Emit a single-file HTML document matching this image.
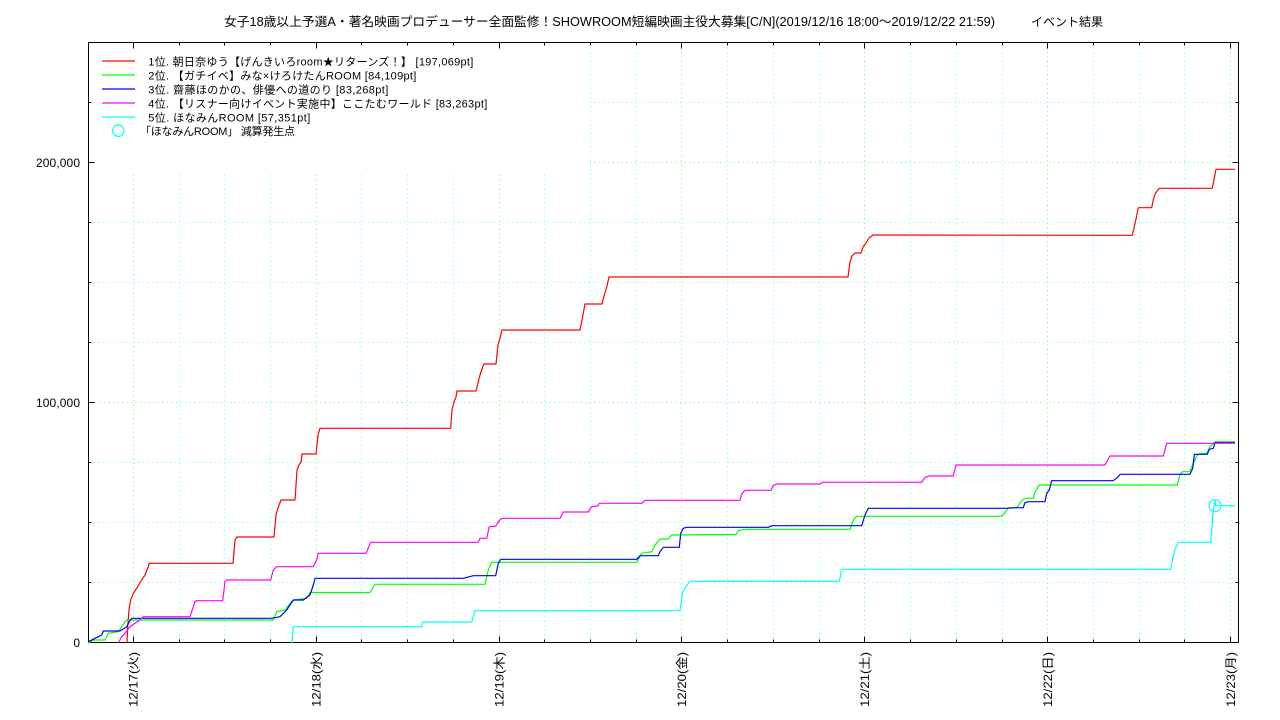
<!DOCTYPE html>
<html>
<head>
<meta charset="utf-8">
<style>
html,body{margin:0;padding:0;background:#fff;}
svg{display:block;}
text{font-family:"Liberation Sans","Noto Sans CJK JP",sans-serif;fill:#000;}
</style>
</head>
<body>
<svg width="1280" height="720" viewBox="0 0 1280 720" xmlns="http://www.w3.org/2000/svg">
<rect x="0" y="0" width="1280" height="720" fill="#fff"/>

<!-- title -->
<text x="224" y="26" font-size="12.5" textLength="771" lengthAdjust="spacingAndGlyphs">女子18歳以上予選A・著名映画プロデューサー全面監修！SHOWROOM短編映画主役大募集[C/N](2019/12/16 18:00～2019/12/22 21:59)</text>
<text x="1031" y="26" font-size="12" textLength="72" lengthAdjust="spacingAndGlyphs">イベント結果</text>

<!-- grid: vertical cyan (6h) -->
<g stroke="#80ffff" stroke-width="1" stroke-dasharray="1.2 3.3" fill="none">
<path d="M179.5 175V642 M224.5 175V642 M270.5 175V642 M361.5 175V642 M407.5 175V642 M453.5 175V642 M544.5 175V642
M590.5 43V642 M636.5 43V642 M727.5 43V642 M773.5 43V642 M819.5 43V642 M910.5 43V642 M956.5 43V642 M1002.5 43V642
M1093.5 43V642 M1139.5 43V642 M1184.5 43V642"/>
<path d="M89 582.5H1238 M89 522.5H1238 M89 462.5H1238 M89 342.5H1238 M89 282.5H1238 M89 222.5H1238 M590 102.5H1238"/>
</g>
<!-- grid: green (days, 100k) -->
<g stroke="#80ff80" stroke-width="1" stroke-dasharray="1.2 3.3" fill="none">
<path d="M133.5 175V642 M316.5 175V642 M499.5 175V642 M681.5 43V642 M864.5 43V642 M1047.5 43V642 M1230.5 43V642"/>
<path d="M95 402.5H1238 M590 162.5H1238"/>
</g>

<!-- axes frame -->
<rect x="88.5" y="42.5" width="1150" height="600" fill="none" stroke="#000" stroke-width="1"/>

<!-- ticks -->
<g stroke="#000" stroke-width="1" fill="none">
<path d="M133.5 642.5v-6 M179.5 642.5v-3 M224.5 642.5v-3 M270.5 642.5v-3 M316.5 642.5v-6 M361.5 642.5v-3 M407.5 642.5v-3 M453.5 642.5v-3 M499.5 642.5v-6 M544.5 642.5v-3 M590.5 642.5v-3 M636.5 642.5v-3 M681.5 642.5v-6 M727.5 642.5v-3 M773.5 642.5v-3 M819.5 642.5v-3 M864.5 642.5v-6 M910.5 642.5v-3 M956.5 642.5v-3 M1002.5 642.5v-3 M1047.5 642.5v-6 M1093.5 642.5v-3 M1139.5 642.5v-3 M1184.5 642.5v-3 M1230.5 642.5v-6"/>
<path d="M133.5 42.5v6 M179.5 42.5v3 M224.5 42.5v3 M270.5 42.5v3 M316.5 42.5v6 M361.5 42.5v3 M407.5 42.5v3 M453.5 42.5v3 M499.5 42.5v6 M544.5 42.5v3 M590.5 42.5v3 M636.5 42.5v3 M681.5 42.5v6 M727.5 42.5v3 M773.5 42.5v3 M819.5 42.5v3 M864.5 42.5v6 M910.5 42.5v3 M956.5 42.5v3 M1002.5 42.5v3 M1047.5 42.5v6 M1093.5 42.5v3 M1139.5 42.5v3 M1184.5 42.5v3 M1230.5 42.5v6"/>
<path d="M88.5 582.5h3 M88.5 522.5h3 M88.5 462.5h3 M88.5 402.5h6 M88.5 342.5h3 M88.5 282.5h3 M88.5 222.5h3 M88.5 162.5h6 M88.5 102.5h3"/>
<path d="M1238.5 582.5h-3 M1238.5 522.5h-3 M1238.5 462.5h-3 M1238.5 402.5h-6 M1238.5 342.5h-3 M1238.5 282.5h-3 M1238.5 222.5h-3 M1238.5 162.5h-6 M1238.5 102.5h-3"/>
</g>

<!-- y labels -->
<g font-size="12" text-anchor="end">
<text x="80" y="167" textLength="44">200,000</text>
<text x="80" y="407" textLength="44">100,000</text>
<text x="80" y="647">0</text>
</g>

<!-- x labels (rotated) -->
<g font-size="12" text-anchor="end">
<text transform="translate(137.5,652) rotate(-90)" textLength="55" lengthAdjust="spacingAndGlyphs">12/17(火)</text>
<text transform="translate(320.5,652) rotate(-90)" textLength="55" lengthAdjust="spacingAndGlyphs">12/18(水)</text>
<text transform="translate(503.5,652) rotate(-90)" textLength="55" lengthAdjust="spacingAndGlyphs">12/19(木)</text>
<text transform="translate(686,652) rotate(-90)" textLength="55" lengthAdjust="spacingAndGlyphs">12/20(金)</text>
<text transform="translate(869,652) rotate(-90)" textLength="55" lengthAdjust="spacingAndGlyphs">12/21(土)</text>
<text transform="translate(1052,652) rotate(-90)" textLength="55" lengthAdjust="spacingAndGlyphs">12/22(日)</text>
<text transform="translate(1235,652) rotate(-90)" textLength="55" lengthAdjust="spacingAndGlyphs">12/23(月)</text>
</g>

<!-- series -->
<g fill="none" stroke-width="1.2" stroke-linejoin="round">
<polyline stroke="#ff0000" points="127,643 127.7,626.7 129,610 130.7,600 133.3,593.3 136.7,588.3 141.7,580 145,575 147.7,568.3 149.3,563.3 233,563.3 235,540 237,537 274,537 276,515 278,508 281,500 295,500 297,470 299,465 301,462 302,454 316,454 318,435 320,428.3 450.7,428.3 452,410 454,402 456,397 457,391 476,391 478,383 480,375 483,366 484,364 496,364 498,345 500,338 502,330 580,330 582,320 585,304 602,304 604,296 607,286 609,277 848,277 850,262 852,256 855,253 861,253 863,247 866,243 869,238 873,235 1132.3,235.3 1136,219.3 1138.3,207.7 1151.7,207.7 1153.3,199.3 1155.7,192.7 1159.3,188.3 1212.3,188.3 1216,169.3 1235,169.3"/>
<polyline stroke="#00ff00" points="88.3,643 93.3,640 105,640 108.3,633.3 118.3,631.7 121.7,626.7 125,621.7 126.7,620 273.3,620 276.7,611.7 285,610 290,603.3 293.3,600 306.7,598.3 310,592.5 370,592.5 375,584.3 485,584.3 488.3,570 491.7,562.3 636.7,562.3 641.7,553.3 651.7,551.7 655,545 660,539 668.3,539 671.7,535 736,534.5 738.3,530.7 743.3,529.3 850,529.3 853.3,520 856.7,516.3 1001.7,516.3 1005,512.7 1008.3,507.7 1016.7,507.7 1021.7,500.7 1025,498.3 1033.3,498.3 1035,491.7 1039.3,485 1177.3,485 1180,474.3 1182.7,471.7 1189.3,471.7 1191.7,466.7 1194,462.3 1196.7,456 1200,453.3 1206.7,453.3 1210,446.7 1215,441.7 1235,441.7"/>
<polyline stroke="#0000ff" points="88.3,641.7 95,638.3 101.7,635 103.3,631 120,631 126.7,626.7 129.3,621.7 131.7,618.3 271.7,618.3 280,616.7 286.7,610 293.3,600 303.3,600 310,595 313.3,585 315,578.3 463.3,578.3 473.3,575.7 495.7,575.7 498.3,563.3 500.7,559.3 636.7,559.3 640,555.7 658.3,555.7 660,551.7 663.3,547.3 679.3,547.3 680.7,533.3 683.3,528.3 686.7,527.3 768.3,527.3 771.7,525.7 861.7,525.7 865,515 868.3,508.3 1006.7,508.3 1016.7,507.7 1023.3,507.7 1025,502.7 1028.3,501.7 1045,501.7 1046.7,493.3 1049.3,490 1051.7,480.7 1113.3,480.7 1118.3,476.7 1120,474.3 1190,474.3 1192.7,468.3 1194.3,454.3 1207.3,454.3 1209.3,449.3 1213.3,448.3 1215,442.7 1235,442.7"/>
<polyline stroke="#ff00ff" points="118.3,643 121.7,636.7 125,633.3 130,626.7 135,623.3 140,620 143.3,616.7 190,616.7 195,601.7 196.7,600.7 222.7,600.7 225,581.7 226.7,580 270.7,580 273.3,570 276.7,566.7 313.3,566.7 316.7,560 318.3,553.3 366,553.3 370.7,542.3 478.3,542.3 480,538.3 486.7,538.3 489.3,526.7 496,526 498.3,521.7 501.7,518.3 560,518.3 563.3,512 588.3,512 591.7,506.7 597.7,506 599.3,503.3 641.7,503.3 645,500.3 740,500.3 741.7,494.3 745,490.3 771,490.3 773.3,485.7 776.7,484 820,484 822.7,482.3 921.7,482.3 925,477.3 929.3,476 953.3,476 956,465 1105,465 1110,456 1163.3,456 1166.7,443.3 1235,443.3"/>
<polyline stroke="#00ffff" points="291.7,643 293.3,626.7 421.7,626.7 422.7,622 471.7,622 475,610.7 680,610.7 682.7,591.7 686,586.7 690,581.3 839.3,581.3 841.7,569.3 1170.7,569.3 1172.7,558.3 1175,549.3 1178.3,542.3 1210.7,542.3 1213.3,510 1215,500.5 1215.5,505.7 1235,505.7"/>
<circle cx="1215" cy="505.7" r="6" stroke="#00ffff" stroke-width="1.2"/>
</g>

<!-- legend -->
<g fill="none" stroke-width="1.2">
<path stroke="#ff0000" d="M102 61H135"/>
<path stroke="#00ff00" d="M102 75H135"/>
<path stroke="#0000ff" d="M102 89H135"/>
<path stroke="#ff00ff" d="M102 103H135"/>
<path stroke="#00ffff" d="M102 117H135"/>
<circle cx="118.3" cy="130.7" r="5.7" stroke="#00ffff"/>
</g>
<g font-size="11">
<text x="148.3" y="65.5" textLength="325">1位. 朝日奈ゆう【げんきいろroom★リターンズ！】 [197,069pt]</text>
<text x="148.3" y="79.5" textLength="268">2位. 【ガチイベ】みな×けろけたんROOM [84,109pt]</text>
<text x="148.3" y="93.5" textLength="240">3位. 齋藤ほのかの、俳優への道のり [83,268pt]</text>
<text x="148.3" y="107.5" textLength="339">4位. 【リスナー向けイベント実施中】ここたむワールド [83,263pt]</text>
<text x="148.3" y="121.5" textLength="162">5位. ほなみんROOM [57,351pt]</text>
<text x="140" y="135.2" textLength="155">「ほなみんROOM」 減算発生点</text>
</g>
</svg>
</body>
</html>
